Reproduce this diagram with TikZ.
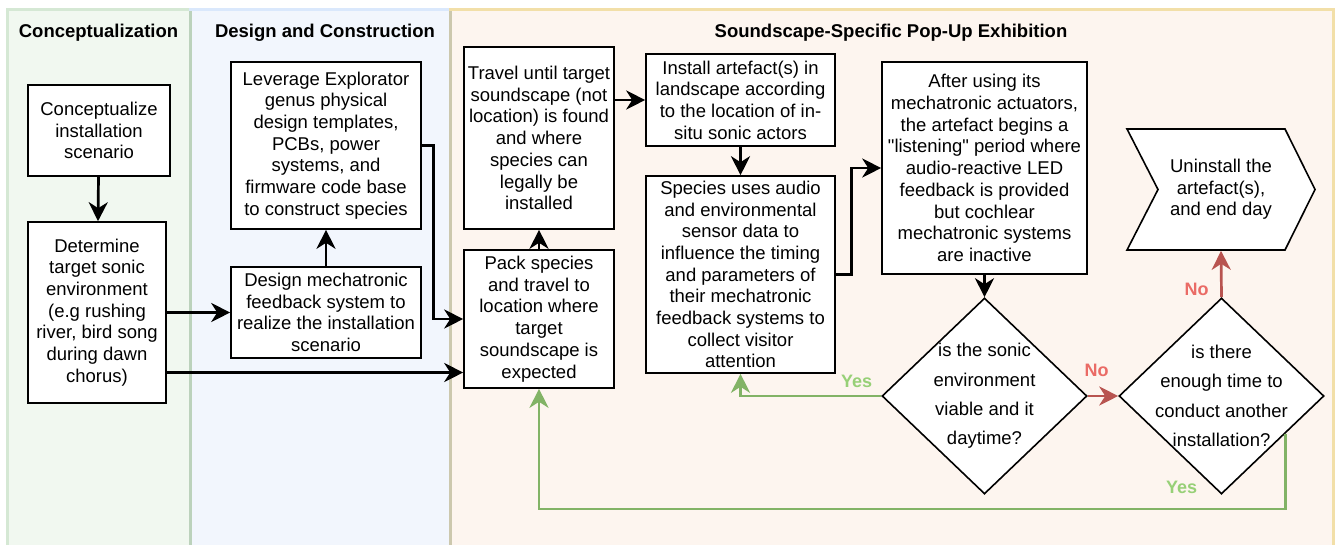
\documentclass[tikz,border=0pt]{standalone}
\usepackage{fontspec}
\setmainfont{Liberation Sans}[Ligatures=TeXOff]
\usetikzlibrary{arrows.meta,shapes.geometric,calc}
\definecolor{greenfill}{HTML}{F1F8F0}
\definecolor{greenedge}{HTML}{D5E8D4}
\definecolor{bluefill}{HTML}{F2F6FD}
\definecolor{blueedge}{HTML}{DAE8FC}
\definecolor{orangefill}{HTML}{FDF5EF}
\definecolor{orangeedge}{HTML}{F2DFA8}
\definecolor{sepgreen}{HTML}{BCD2BC}
\definecolor{seporange}{HTML}{CCC8AE}
\definecolor{yesline}{HTML}{82B366}
\definecolor{yestext}{HTML}{97D077}
\definecolor{noline}{HTML}{B85450}
\definecolor{notext}{HTML}{EA6B66}
\tikzset{
  lane/.style={line width=3pt},
  lanetitle/.style={font=\fontsize{18.5}{22}\selectfont\bfseries,inner sep=0pt},
  box/.style={draw,line width=1.6pt,fill=white,inner sep=0pt,align=center,
    font=\fontsize{18.5}{21.7}\selectfont},
  decide/.style={diamond,draw,line width=1.6pt,fill=white,inner sep=0pt,
    minimum width=205pt,minimum height=196pt},
  dectext/.style={align=center,inner sep=0pt,font=\fontsize{18.5}{29.3}\selectfont},
  arr/.style={line width=2.7pt,-{Stealth[length=19pt,width=19pt,inset=6pt]}},
  yesarr/.style={arr,draw=yesline},
  noarr/.style={arr,draw=noline},
  yeslbl/.style={font=\fontsize{18}{21}\selectfont\bfseries,text=yestext,inner sep=0pt},
  nolbl/.style={font=\fontsize{18}{21}\selectfont\bfseries,text=notext,inner sep=0pt}
}
\begin{document}
\begin{tikzpicture}[x=1pt,y=-1pt]
  \useasboundingbox (0,0) rectangle (1338,544);
  % lanes
  \draw[lane,fill=greenfill,draw=greenedge] (7,9.5) rectangle (190,570);
  \draw[lane,fill=bluefill,draw=blueedge] (190,9.5) rectangle (450,570);
  \draw[lane,fill=orangefill,draw=orangeedge] (450,9.5) rectangle (1333,570);
  \draw[lane,draw=sepgreen] (190,11) -- (190,570);
  \draw[lane,draw=seporange] (450,11) -- (450,570);
  \node[lanetitle] (t1) at (98.5,33) {Conceptualization};
  \node[lanetitle] (t2) at (325,33) {Design and Construction};
  \node[lanetitle] (t3) at (891,33) {Soundscape-Specific Pop-Up Exhibition};

  % boxes
  \node[box,minimum width=142pt,minimum height=91pt] (con) at (99,130.5)
    {Conceptualize\\installation\\scenario};
  \node[box,minimum width=138pt,minimum height=181pt] (det) at (97,312.5)
    {Determine\\target sonic\\environment\\(e.g rushing\\river, bird song\\during dawn\\chorus)};
  \node[box,minimum width=190pt,minimum height=167pt] (lev) at (326,145.5)
    {Leverage Explorator\\genus physical\\design templates,\\PCBs, power\\systems, and\\firmware code base\\to construct species};
  \node[box,minimum width=190pt,minimum height=91pt] (des) at (326,312.5)
    {Design mechatronic\\feedback system to\\realize the installation\\scenario};
  \node[box,minimum width=150pt,minimum height=182pt] (trav) at (539,138)
    {Travel until target\\soundscape (not\\location) is found\\and where\\species can\\legally be\\installed};
  \node[box,minimum width=150pt,minimum height=138pt] (pack) at (539,319)
    {Pack species\\and travel to\\location where\\target\\soundscape is\\expected};
  \node[box,minimum width=189pt,minimum height=92pt] (inst) at (740.5,100)
    {Install artefact(s) in\\landscape according\\to the location of in-\\situ sonic actors};
  \node[box,minimum width=189pt,minimum height=197pt] (spec) at (740.5,274.5)
    {Species uses audio\\and environmental\\sensor data to\\influence the timing\\and parameters of\\their mechatronic\\feedback systems to\\collect visitor\\attention};
  \node[box,minimum width=205pt,minimum height=212pt] (after) at (984.5,168)
    {After using its\\mechatronic actuators,\\the artefact begins a\\"listening" period where\\audio-reactive LED\\feedback is provided\\but cochlear\\mechatronic systems\\are inactive};
  \coordinate (unin) at (1221,189.5);
  \draw[line width=1.6pt,fill=white] ($(unin)+(-94,-60.5)$) -- ($(unin)+(64,-60.5)$)
    -- ($(unin)+(94,0)$) -- ($(unin)+(64,60.5)$) -- ($(unin)+(-94,60.5)$)
    -- ($(unin)+(-63,0)$) -- cycle;
  \node[box,draw=none,fill=none,minimum width=188pt,minimum height=121pt] (unint) at (unin)
    {Uninstall the\\artefact(s),\\and end day};

  % decisions
  \node[decide] (dec1) at (984.5,396) {};
  \node[dectext] (dec1t) at (dec1) {is the sonic\\environment\\viable and it\\daytime?};
  \node[decide] (dec2) at (1221.5,396) {};
  \node[dectext] (dec2t) at (dec2) {is there\\enough time to\\conduct another\\installation?};

  % connectors
  \draw[arr] (con) -- (det);
  \draw[arr] (det) -- (des);
  \draw[arr] (des) -- (lev);
  \coordinate (detout) at ($(det.east)+(0,60)$);
  \draw[arr] (detout) -- (detout -| pack.west);
  \draw[arr] (lev.east) -- ++(12,0) |- (pack.west);
  \draw[arr] (pack) -- (trav);
  \draw[arr] (inst.west -| trav.east) -- (inst.west);
  \draw[arr] (inst) -- (spec);
  \draw[arr] (spec.east) -- ++(16,0) |- (after.west);
  \draw[arr] (after) -- (dec1);
  \draw[noarr] (dec1.east) -- (dec2.west);
  \draw[noarr] (dec2.north) -- (unint.south);
  \draw[yesarr] (dec1.west) -| (spec.south);
  \coordinate (d2out) at ($(dec2.east)!0.38!(dec2.south)$);
  \coordinate (ybot) at (0,509);
  \draw[yesarr] (d2out) |- (ybot -| pack.south) -- (pack.south);

  % labels
  \node[yeslbl] (y1) at (856.7,381) {Yes};
  \node[nolbl] (n1) at (1096.7,370) {No};
  \node[nolbl] (n2) at (1196.7,289.7) {No};
  \node[yeslbl] (y2) at (1181.7,487.7) {Yes};
\end{tikzpicture}
\end{document}
